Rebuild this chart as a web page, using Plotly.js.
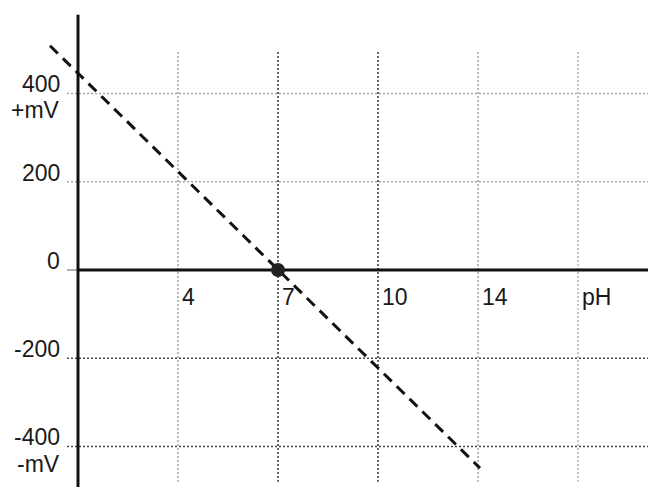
<!DOCTYPE html>
<html>
<head>
<meta charset="utf-8">
<script src="https://cdn.plot.ly/plotly-3.0.1.min.js"></script>
<style>html,body{margin:0;padding:0;background:#fff;}#chart{width:648px;height:487px;}</style>
</head>
<body>
<div id="chart"></div>
<script>
// x axis labels (equally spaced grid columns)
const xTickLabels = ['4', '7', '10', '14', 'pH'];
// y axis values (mV)
const yTickVals = [400, 200, 0, -200, -400];
const yUnitTop = '+mV';
const yUnitBottom = '-mV';
// electrode response line, x in grid-column units (0 = y axis, 1 = "4", 2 = "7", ...)
const lineGridX = [-0.28, 4.02];
const lineMV = [508, -449];
// isopotential point at pH 7
const pointGridX = [2];
const pointMV = [0];

const vGridColors = ['#a0a0a0', '#333333', '#333333', '#a0a0a0', '#b4b4b4'];
const xMin = -0.38, xMax = 5.7;
const yMin = -491.8, yMax = 589;
const font = {family: 'Liberation Sans, Arial, sans-serif', size: 23, color: '#1a1a1a'};

const shapes = [];
yTickVals.forEach(v => {
  if (v === 0) {
    shapes.push({type: 'line', layer: 'below', xref: 'x', yref: 'y', x0: -0.11, x1: 0, y0: v, y1: v,
      line: {color: '#999', width: 1.5}});
  } else {
    shapes.push({type: 'line', layer: 'below', xref: 'x', yref: 'y', x0: -0.11, x1: xMax, y0: v, y1: v,
      line: {color: v > 0 ? '#a8a8a8' : '#444', width: 1.5, dash: '2px,2px'}});
  }
});
xTickLabels.forEach((t, i) => {
  shapes.push({type: 'line', layer: 'below', xref: 'x', yref: 'y', x0: i + 1, x1: i + 1, y0: 494, y1: -480,
    line: {color: vGridColors[i], width: 1.5, dash: '2px,2px'}});
});
// y axis and zero line
shapes.push({type: 'line', layer: 'below', xref: 'x', yref: 'y', x0: 0, x1: 0, y0: 578, y1: yMin,
  line: {color: '#111', width: 3}});
shapes.push({type: 'line', layer: 'below', xref: 'x', yref: 'y', x0: 0, x1: xMax, y0: 0, y1: 0,
  line: {color: '#111', width: 3}});

const annotations = [];
yTickVals.forEach(v => {
  annotations.push({xref: 'x', yref: 'y', x: 0, y: v, text: String(v), showarrow: false,
    xanchor: 'right', yanchor: 'middle', xshift: -16, yshift: 9, font: font});
});
annotations.push({xref: 'x', yref: 'y', x: 0, y: yTickVals[0], text: yUnitTop, showarrow: false,
  xanchor: 'right', yanchor: 'middle', xshift: -16, yshift: -17, font: font});
annotations.push({xref: 'x', yref: 'y', x: 0, y: yTickVals[yTickVals.length - 1], text: yUnitBottom, showarrow: false,
  xanchor: 'right', yanchor: 'middle', xshift: -16, yshift: -18, font: font});
xTickLabels.forEach((t, i) => {
  annotations.push({xref: 'x', yref: 'y', x: i + 1, y: 0, text: t, showarrow: false,
    xanchor: 'left', yanchor: 'middle', xshift: 2, yshift: -27, font: font});
});

const traces = [
  {x: lineGridX, y: lineMV, mode: 'lines', type: 'scatter', hoverinfo: 'skip',
   line: {color: '#111', width: 3, dash: '11px,7px'}},
  {x: pointGridX, y: pointMV, mode: 'markers', type: 'scatter', hoverinfo: 'skip',
   marker: {color: '#222', size: 14}}
];

const layout = {
  width: 648, height: 487,
  margin: {l: 40, r: 0, t: 10, b: 0, pad: 0},
  paper_bgcolor: '#fff', plot_bgcolor: '#fff',
  showlegend: false,
  xaxis: {range: [xMin, xMax], showgrid: false, zeroline: false, showticklabels: false, showline: false, ticks: '', fixedrange: true},
  yaxis: {range: [yMin, yMax], showgrid: false, zeroline: false, showticklabels: false, showline: false, ticks: '', fixedrange: true},
  shapes: shapes,
  annotations: annotations
};

Plotly.newPlot('chart', traces, layout, {displayModeBar: false, staticPlot: true});
</script>
</body>
</html>
